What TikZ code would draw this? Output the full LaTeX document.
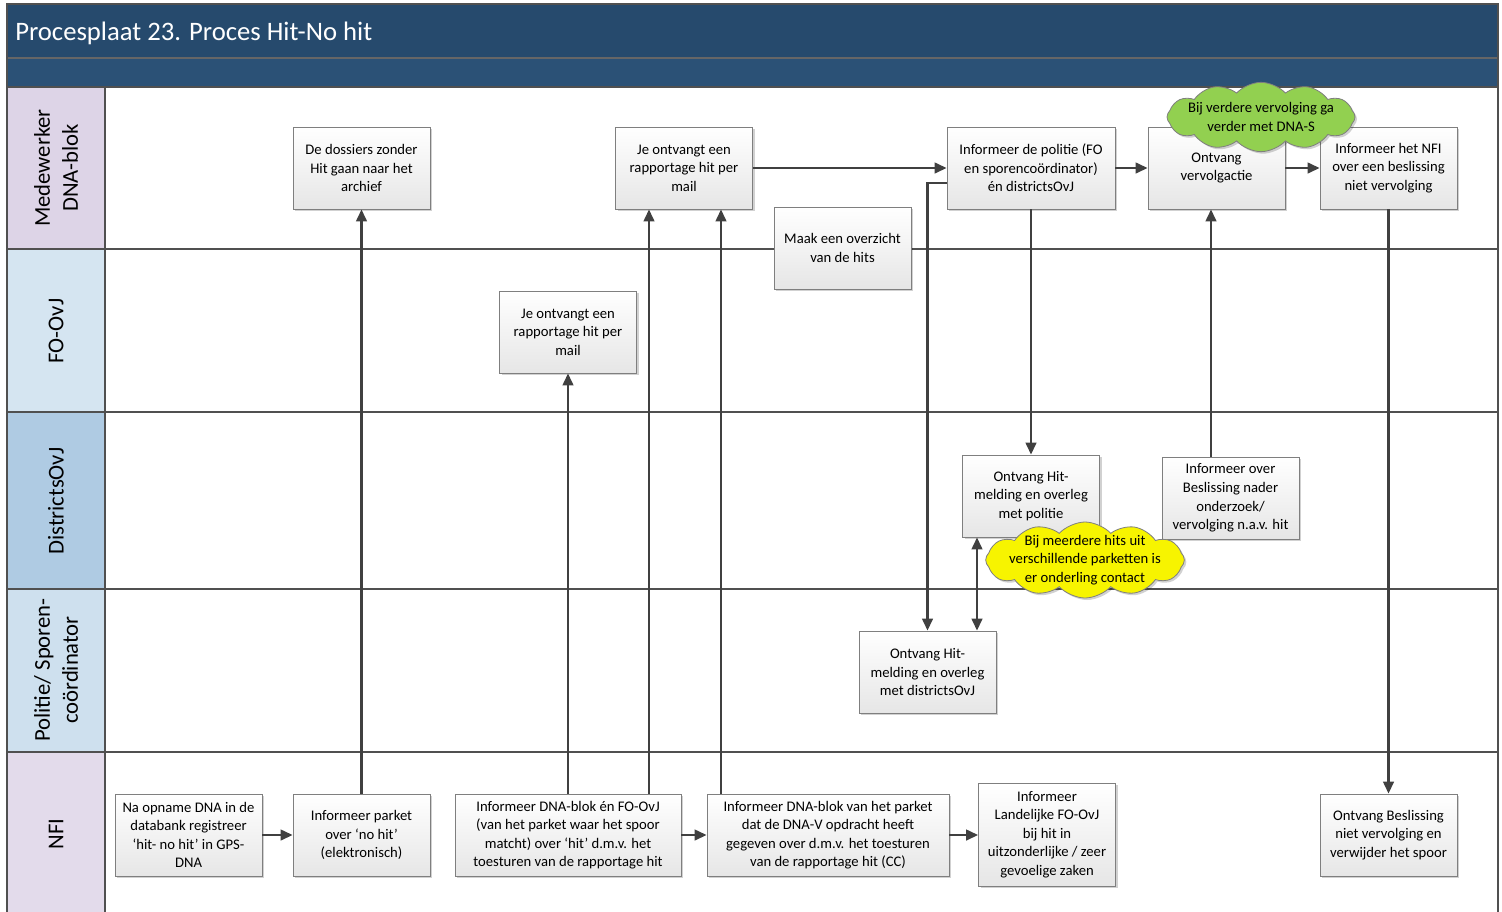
\documentclass[tikz,border=0pt]{standalone}
\usepackage{fontspec}
\setmainfont{Carlito}
\usetikzlibrary{arrows.meta,shapes.symbols,shadows}
\definecolor{bandA}{HTML}{264A6D}
\definecolor{bandB}{HTML}{2B5176}
\definecolor{laneA}{HTML}{DDD4E7}
\definecolor{laneB}{HTML}{D5E5F1}
\definecolor{laneC}{HTML}{AFCBE3}
\definecolor{laneD}{HTML}{CEE0EE}
\definecolor{laneE}{HTML}{E3DBEB}
\definecolor{boxline}{HTML}{7F7F7F}
\definecolor{boxbot}{HTML}{E6E6E6}
\definecolor{conline}{HTML}{404040}
\definecolor{laneline}{HTML}{505050}
\definecolor{cgreen}{HTML}{92D050}
\definecolor{cyellow}{HTML}{F7F400}
\newcommand\boxfont{\fontsize{11}{13.9}\selectfont}
\newcommand\lanefont{\fontsize{17}{21}\selectfont}
\newcommand\titlefont{\fontsize{20}{24}\selectfont}
\begin{document}
\begin{tikzpicture}[x=0.75pt,y=-0.75pt,
  box/.style={draw=boxline, line width=0.6pt, top color=white, bottom color=boxbot,
    align=center, font=\boxfont, minimum width=102.75pt, minimum height=61.5pt, inner sep=2pt,
    drop shadow={shadow xshift=1.5pt, shadow yshift=-1.5pt, fill=black, opacity=0.18}},
  lanelabel/.style={rotate=90, align=center, font=\lanefont, text=black},
  laneln/.style={draw=laneline, line width=1.5pt},
  arr/.style={draw=conline, line width=1.7pt, -{Triangle[length=9pt,width=8pt]}},
  arrboth/.style={draw=conline, line width=1.7pt, {Triangle[length=9pt,width=8pt]}-{Triangle[length=9pt,width=8pt]}},
  note/.style={cloud, cloud puffs=12, cloud puff arc=95, cloud ignores aspect, draw=boxline, line width=0.6pt,
    align=center, font=\boxfont, inner sep=-14pt,
    drop shadow={shadow xshift=1.5pt, shadow yshift=-1.5pt, fill=black, opacity=0.18}}
]
\useasboundingbox (0,0) rectangle (1502,911);
% header
\fill[bandA] (7,4) rectangle (1498,58);
\fill[bandB] (7,58) rectangle (1498,87);
\draw[black!60, line width=0.8pt] (7,58) -- (1498,58);
\node[anchor=base west, text=white, font=\titlefont, inner sep=0pt] (title) at (15,40) {Procesplaat 23. Proces Hit-No hit};
% lanes
\fill[laneA] (7,87) rectangle (105,249);
\fill[laneB] (7,249) rectangle (105,412);
\fill[laneC] (7,412) rectangle (105,589);
\fill[laneD] (7,589) rectangle (105,752);
\fill[laneE] (7,752) rectangle (105,915);
\node[lanelabel] (L1) at (56,168) {Medewerker\\DNA-blok};
\node[lanelabel] (L2) at (56,331) {FO-OvJ};
\node[lanelabel] (L3) at (56,501) {DistrictsOvJ};
\node[lanelabel] (L4) at (56,670) {Politie/ Sporen-\\coördinator};
\node[lanelabel] (L5) at (56,834) {NFI};
\draw[laneln] (7,249) -- (1498,249);
\draw[laneln] (7,412) -- (1498,412);
\draw[laneln] (7,589) -- (1498,589);
\draw[laneln] (7,752) -- (1498,752);
\draw[laneln] (105,87) -- (105,915);
\draw[laneln] (7,87) -- (1498,87);
\draw[laneln] (7,4) rectangle (1498,915);
% helper x positions
\coordinate (xa) at (649,0);
\coordinate (xb) at (721,0);
\coordinate (xc) at (1211,0);
\coordinate (xd) at (977,0);
% boxes
\node[box] (b1) at (361.5,168) {De dossiers zonder\\Hit gaan naar het\\archief};
\node[box] (b2) at (684,168) {Je ontvangt een\\rapportage hit per\\mail};
\node[box, minimum width=126pt] (b3) at (1031,168) {Informeer de politie (FO\\en sporencoördinator)\\én districtsOvJ};
\node[box] (b4) at (1216.5,168) {Ontvang\\vervolgactie};
\node[box] (b5) at (1388.5,168) {Informeer het NFI\\over een beslissing\\niet vervolging};
\node[box] (b7) at (568,332) {Je ontvangt een\\rapportage hit per\\mail};
\node[box] (b8) at (1031,496) {Ontvang Hit-\\melding en overleg\\met politie};
\node[box] (b9) at (1230.5,498) {Informeer over\\Beslissing nader\\onderzoek/\\vervolging n.a.v. hit};
\node[box] (b10) at (927.5,672) {Ontvang Hit-\\melding en overleg\\met districtsOvJ};
\node[box, minimum width=110.25pt] (n1) at (188.5,835) {Na opname DNA in de\\databank registreer\\‘hit- no hit’ in GPS-\\DNA};
\node[box] (n2) at (361.5,835) {Informeer parket\\over ‘no hit’\\(elektronisch)};
\node[box, minimum width=169.5pt] (n3) at (568,835) {Informeer DNA-blok én FO-OvJ\\(van het parket waar het spoor\\matcht) over ‘hit’ d.m.v. het\\toesturen van de rapportage hit};
\node[box, minimum width=181.5pt] (n4) at (828,835) {Informeer DNA-blok van het parket\\dat de DNA-V opdracht heeft\\gegeven over d.m.v. het toesturen\\van de rapportage hit (CC)};
\node[box, minimum height=77.25pt] (n5) at (1047,834.5) {Informeer\\Landelijke FO-OvJ\\bij hit in\\uitzonderlijke / zeer\\gevoelige zaken};
\node[box] (n6) at (1388.5,835) {Ontvang Beslissing\\niet vervolging en\\verwijder het spoor};
% connectors
\draw[arr] (n1.east) -- (n2.west);
\draw[arr] (n2.north) -- (b1.south);
\draw[arr] (n3.north) -- (b7.south);
\draw[arr] (n3.north -| xa) -- (b2.south -| xa);
\draw[arr] (n3.east) -- (n4.west);
\draw[arr] (n4.north -| xb) -- (b2.south -| xb);
\draw[arr] (n4.east) -- (n5.west |- n4.east);
\draw[arr] (b2.east) -- (b3.west);
\draw[arr] (b3.east) -- (b4.west);
\draw[arr] (b4.east) -- (b5.west);
\draw[arr] ([yshift=-11.25pt]b3.west) -| (b10.north);
\draw[arr] (b3.south) -- (b8.north);
\draw[arrboth] (b10.north -| xd) -- (b8.south -| xd);
\draw[arr] (b9.north -| xc) -- (b4.south -| xc);
\draw[arr] (b5.south) -- (n6.north);
% box over the lane line
\node[box] (b6) at (842.5,248) {Maak een overzicht\\van de hits};
% clouds
\node[note, fill=cgreen, minimum width=141pt, minimum height=52pt] (c1) at (1261,117) {Bij verdere vervolging ga\\verder met DNA-S};
\node[note, fill=cyellow, minimum width=149pt, minimum height=57pt] (c2) at (1085,560) {Bij meerdere hits uit\\verschillende parketten is\\er onderling contact};
\end{tikzpicture}
\end{document}
